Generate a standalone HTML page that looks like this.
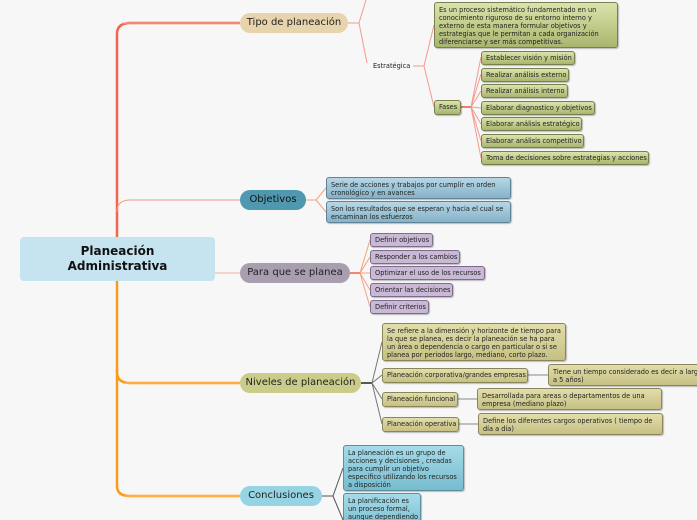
<!DOCTYPE html>
<html><head><meta charset="utf-8"><style>
html,body{margin:0;padding:0;width:697px;height:520px;overflow:hidden}
#w{width:697px;height:520px;background:#f7f7f7;position:relative;overflow:hidden;font-family:"DejaVu Sans","Liberation Sans",sans-serif;color:#222}
.a{position:absolute;box-sizing:border-box}
.pill{border-radius:10px;font-size:10px;text-align:center;line-height:20px;height:20px}
.b{border:1px solid #7a7a5a;border-radius:3px;font-size:6.6px;line-height:8px;padding:2px 4px;box-shadow:1px 1px 1px rgba(0,0,0,.25);white-space:nowrap;overflow:hidden}
.g{background:linear-gradient(#dbe3ac,#a9b66e);border-color:#77804e}
.bl{background:linear-gradient(#b6d6e6,#86b2c8);border-color:#5f8497}
.pu{background:#c9b8d6;border-color:#7d6c8a}
.ye{background:linear-gradient(#e2deaa,#c6c083);border-color:#8a855a}
.cy{background:linear-gradient(#a6dbe9,#76bccf);border-color:#5b8f9e}
.s{padding-top:3px;padding-bottom:3px}
</style></head><body><div id="w">
<svg class="a" style="left:0;top:0" width="697" height="520">
<g fill="none">
<path d="M117 237 V34 Q117 23 130 23 H240" stroke="#f26650" stroke-width="2.5"/>
<path d="M122 23 H240" stroke="#f4aaa0" stroke-width="1"/>
<path d="M117 212 Q117 200 130 200 H240" stroke="#f59a80" stroke-width="1"/>
<path d="M215 273 H240" stroke="#f4b0a6" stroke-width="1"/>
<path d="M117 281 V372 Q117 383 130 383 H240" stroke="#fb9b1c" stroke-width="2.5"/>
<path d="M117 370 V486 Q117 496 130 496 H240" stroke="#fb9b1c" stroke-width="2.5"/>
<path d="M125 383 H240 M125 496 H240" stroke="#fcc070" stroke-width="1"/>
<path d="M348 23 H359 M359 23 L366 0 M359 23 L367 63" stroke="#f49a90" stroke-width="1"/>
<path d="M413 66 H424 M424 66 L434 25 M424 66 L434 107" stroke="#f49a90" stroke-width="1"/>
<path d="M460 107 H471" stroke="#f05040" stroke-width="1.5"/>
<path d="M471 107 L481 57 M471 107 L481 74 M471 107 L481 91 M471 107 L481 108 M471 107 L481 124 M471 107 L481 141 M471 107 L481 158" stroke="#f49a90" stroke-width="1"/>
<path d="M306 200 H316 L326 188 M316 200 L326 212" stroke="#f5a080" stroke-width="1"/>
<path d="M350 273 H360" stroke="#f06040" stroke-width="1.5"/>
<path d="M360 273 L370 240 M360 273 L370 257 M360 273 L370 273 M360 273 L370 290 M360 273 L370 307" stroke="#f5a080" stroke-width="1"/>
<path d="M361 383 H372" stroke="#222" stroke-width="1.5"/>
<path d="M372 383 L382 342 M372 383 L382 375 M372 383 L382 399 M372 383 L382 424" stroke="#777" stroke-width="1"/>
<path d="M527 375 H548 M457 399 H477 M458 424 H478" stroke="#888" stroke-width="1"/>
<path d="M322 496 H333 L343 468 M333 496 L343 520" stroke="#555" stroke-width="1"/>
</g></svg>

<div class="a" style="left:20px;top:237px;width:195px;height:44px;background:#c5e4ef;border-radius:4px;font-weight:bold;font-size:12px;text-align:center;line-height:15px;padding-top:7px;color:#111">Planeación<br>Administrativa</div>

<div class="a pill" style="left:240px;top:13px;width:108px;background:#e8d4ac">Tipo de planeación</div>
<div class="a pill" style="left:240px;top:190px;width:66px;background:#4f98b0;color:#111">Objetivos</div>
<div class="a pill" style="left:240px;top:263px;width:110px;background:#a89eb0">Para que se planea</div>
<div class="a pill" style="left:240px;top:373px;width:121px;background:#cccc8a">Niveles de planeación</div>
<div class="a pill" style="left:240px;top:486px;width:82px;background:#96d4e4">Conclusiones</div>

<div class="a" style="left:373px;top:62px;font-size:6.6px">Estratégica</div>
<div class="a b g s" style="left:434px;top:2px;width:184px;height:46px">Es un proceso sistemático fundamentado en un<br>conocimiento riguroso de su entorno interno y<br>externo de esta manera formular objetivos y<br>estrategias que le permitan a cada organización<br>diferenciarse y ser más competitivas.</div>
<div class="a b g" style="left:434px;top:100px;width:27px;height:15px">Fases</div>
<div class="a b g" style="left:481px;top:51px;width:94px;height:14px">Establecer visión y misión</div>
<div class="a b g" style="left:481px;top:68px;width:88px;height:14px">Realizar análisis externo</div>
<div class="a b g" style="left:481px;top:84px;width:87px;height:14px">Realizar análisis interno</div>
<div class="a b g" style="left:481px;top:101px;width:114px;height:14px">Elaborar diagnostico y objetivos</div>
<div class="a b g" style="left:481px;top:117px;width:101px;height:14px">Elaborar análisis estratégico</div>
<div class="a b g" style="left:481px;top:134px;width:103px;height:14px">Elaborar análisis competitivo</div>
<div class="a b g" style="left:481px;top:151px;width:168px;height:14px">Toma de decisiones sobre estrategias y acciones</div>

<div class="a b bl s" style="left:326px;top:177px;width:185px;height:22px">Serie de acciones y trabajos por cumplir en orden<br>cronológico y en avances</div>
<div class="a b bl s" style="left:326px;top:201px;width:185px;height:22px">Son los resultados que se esperan y hacia el cual se<br>encaminan los esfuerzos</div>

<div class="a b pu" style="left:370px;top:233px;width:63px;height:14px">Definir objetivos</div>
<div class="a b pu" style="left:370px;top:250px;width:90px;height:14px">Responder a los cambios</div>
<div class="a b pu" style="left:370px;top:266px;width:115px;height:14px">Optimizar el uso de los recursos</div>
<div class="a b pu" style="left:370px;top:283px;width:83px;height:14px">Orientar las decisiones</div>
<div class="a b pu" style="left:370px;top:300px;width:59px;height:14px">Definir criterios</div>

<div class="a b ye s" style="left:382px;top:323px;width:184px;height:38px">Se refiere a la dimensión y horizonte de tiempo para<br>la que se planea, es decir la planeación se ha para<br>un área o dependencia o cargo en particular o si se<br>planea por periodos largo, mediano, corto plazo.</div>
<div class="a b ye" style="left:382px;top:368px;width:146px;height:15px">Planeación corporativa/grandes empresas</div>
<div class="a b ye" style="left:382px;top:392px;width:76px;height:15px">Planeación funcional</div>
<div class="a b ye" style="left:382px;top:417px;width:77px;height:15px">Planeación operativa</div>
<div class="a b ye s" style="left:548px;top:364px;width:160px;height:22px">Tiene un tiempo considerado es decir a largo<br>a 5 años)</div>
<div class="a b ye s" style="left:477px;top:388px;width:185px;height:22px">Desarrollada para areas o departamentos de una<br>empresa (mediano plazo)</div>
<div class="a b ye s" style="left:478px;top:413px;width:185px;height:22px">Define los diferentes cargos operativos ( tiempo de<br>día a día)</div>

<div class="a b cy s" style="left:343px;top:445px;width:121px;height:46px">La planeación es un grupo de<br>acciones y decisiones , creadas<br>para cumplir un objetivo<br>especifico utilizando los recursos<br>a disposición</div>
<div class="a b cy s" style="left:343px;top:493px;width:78px;height:40px">La planificación es<br>un proceso formal,<br>aunque dependiendo</div>
</div></body></html>
